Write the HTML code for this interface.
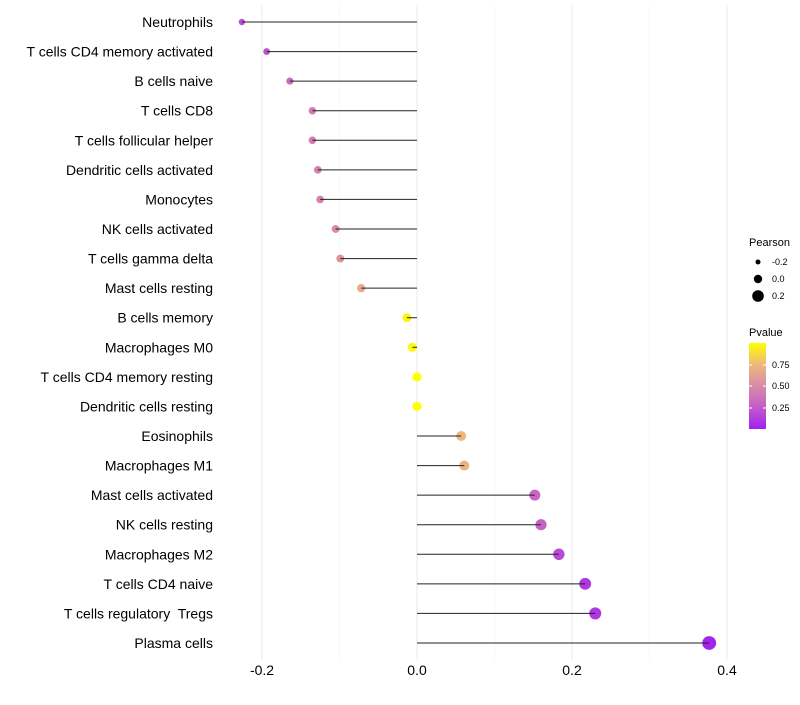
<!DOCTYPE html>
<html><head><meta charset="utf-8"><style>
body{margin:0;background:#fff;font-family:"Liberation Sans",sans-serif;}
svg text{font-family:"Liberation Sans",sans-serif;white-space:pre;}
</style></head><body>
<svg id="chart" width="800" height="700">
<defs><linearGradient id="pg" x1="0" y1="1" x2="0" y2="0">
<stop offset="0" stop-color="#a020f0"/><stop offset="0.25" stop-color="#c45bcc"/><stop offset="0.5" stop-color="#d98ba8"/><stop offset="0.75" stop-color="#eeb87c"/><stop offset="1" stop-color="#ffff00"/></linearGradient></defs>
<g id="grid"></g><g id="points"></g><g id="marks"></g><g id="labels"></g><g id="xticks"></g>
<g>
<text x="749" y="246" font-size="11">Pearson</text>
<circle cx="758" cy="262" r="2.5" fill="#000"/><text x="772" y="265" font-size="9">-0.2</text>
<circle cx="758" cy="279" r="4.2" fill="#000"/><text x="772" y="282" font-size="9">0.0</text>
<circle cx="758" cy="296" r="5.8" fill="#000"/><text x="772" y="299" font-size="9">0.2</text>
<text x="749" y="336" font-size="11">Pvalue</text>
<rect x="749" y="343" width="17" height="86" fill="url(#pg)"/>
<g stroke="#fff" stroke-width="1"><line x1="749" x2="752" y1="365" y2="365"/><line x1="763" x2="766" y1="365" y2="365"/><line x1="749" x2="752" y1="386" y2="386"/><line x1="763" x2="766" y1="386" y2="386"/><line x1="749" x2="752" y1="408" y2="408"/><line x1="763" x2="766" y1="408" y2="408"/></g>
<text x="772" y="368" font-size="9">0.75</text><text x="772" y="389" font-size="9">0.50</text><text x="772" y="411" font-size="9">0.25</text>
</g>
</svg>
<script>
const categories=["Neutrophils","T cells CD4 memory activated","B cells naive","T cells CD8","T cells follicular helper","Dendritic cells activated","Monocytes","NK cells activated","T cells gamma delta","Mast cells resting","B cells memory","Macrophages M0","T cells CD4 memory resting","Dendritic cells resting","Eosinophils","Macrophages M1","Mast cells activated","NK cells resting","Macrophages M2","T cells CD4 naive","T cells regulatory  Tregs","Plasma cells"];
const pearson=[-0.226,-0.194,-0.164,-0.135,-0.135,-0.128,-0.125,-0.105,-0.099,-0.072,-0.013,-0.006,0.0,0.0,0.057,0.061,0.152,0.160,0.183,0.217,0.230,0.377];
const pvalue=[0.2,0.22,0.33,0.42,0.42,0.45,0.45,0.5,0.55,0.68,0.96,0.98,1.0,1.0,0.75,0.72,0.3,0.28,0.18,0.1,0.1,0.02];
const xTicks=[-0.2,0.0,0.2,0.4];
const xMinor=[-0.1,0.1,0.3];
const NS="http://www.w3.org/2000/svg";
const xs=v=>417+v*775;
const ys=i=>22+i*(621/(categories.length-1));
const rs=v=>Math.max(2,4.6+6.2*v);
const stops=[[0,[160,32,240]],[0.25,[196,91,204]],[0.5,[217,139,168]],[0.75,[238,184,124]],[1,[255,255,0]]];
function col(p){for(let i=1;i<stops.length;i++){if(p<=stops[i][0]){const a=stops[i-1],b=stops[i],t=(p-a[0])/(b[0]-a[0]);return "rgb("+a[1].map((c,k)=>Math.round(c+(b[1][k]-c)*t)).join(",")+")";}}return "rgb(255,255,0)";}
function mk(tag,attrs,parent){const e=document.createElementNS(NS,tag);for(const k in attrs)e.setAttribute(k,attrs[k]);document.getElementById(parent).appendChild(e);return e;}
xMinor.forEach(v=>{const l=mk("line",{x1:xs(v),x2:xs(v),y1:5,y2:660,stroke:"#f2f2f2","stroke-width":0.6},"grid");

});
xTicks.forEach(v=>{const l=mk("line",{x1:xs(v),x2:xs(v),y1:5,y2:660,stroke:"#ebebeb","stroke-width":1.1},"grid");


const t=mk("text",{x:xs(v),y:675,"font-size":14,"text-anchor":"middle",fill:"#000"},"xticks");t.textContent=v.toFixed(1);

});
categories.forEach((c,i)=>{const y=ys(i);
const t=mk("text",{x:213,y:y+5,"font-size":14,"text-anchor":"end",fill:"#000"},"labels");t.textContent=c;


const p=mk("circle",{cx:xs(pearson[i]),cy:y,r:rs(pearson[i]),fill:col(pvalue[i])},"points");


const l=mk("line",{x1:xs(0),x2:xs(pearson[i]),y1:y,y2:y,stroke:"#222","stroke-width":1},"marks");

});
</script>
</body></html>
